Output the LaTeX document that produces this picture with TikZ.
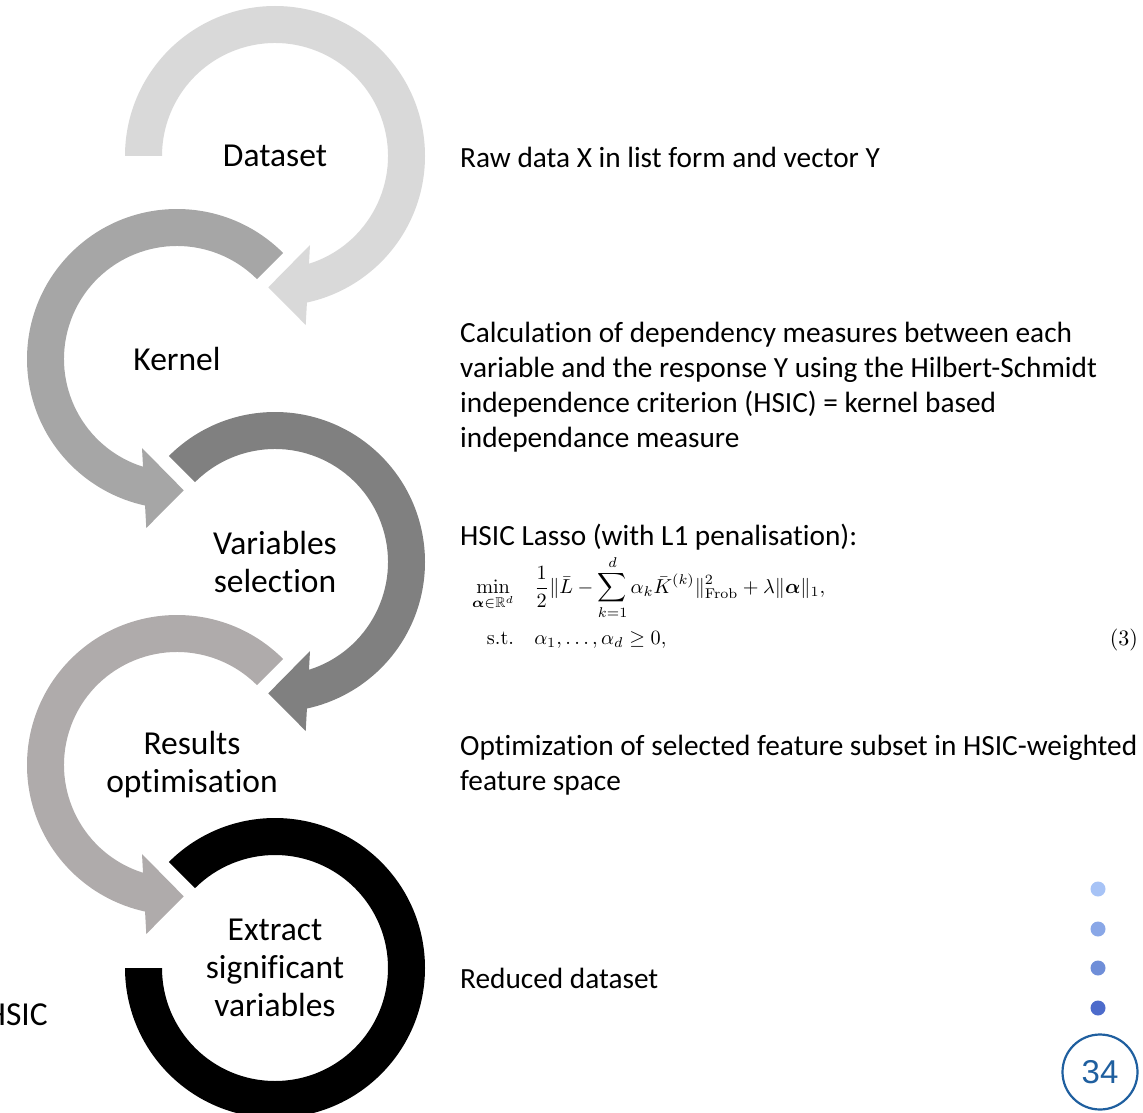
\documentclass[tikz,border=0pt]{standalone}
\usepackage{amsmath,amssymb}
\usepackage[no-math]{fontspec}
\setmainfont{Carlito}[Ligatures={NoCommon}]
\newfontfamily\numfont{Liberation Sans}
\usepackage{graphicx}

\definecolor{ringA}{HTML}{D9D9D9}
\definecolor{ringB}{HTML}{A6A6A6}
\definecolor{ringC}{HTML}{808080}
\definecolor{ringD}{HTML}{AFABAB}
\definecolor{ringE}{HTML}{000000}
\definecolor{dotA}{HTML}{A7C3F6}
\definecolor{dotB}{HTML}{89A7E7}
\definecolor{dotC}{HTML}{6F8ED8}
\definecolor{dotD}{HTML}{4D6BCB}
\definecolor{pgblue}{HTML}{1F5F9F}

% clockwise ring arrow: centre x, centre y, start angle, colour (head at the bottom)
\newcommand\ringCW[4]{%
  \fill[#4, shift={(#1,#2)}] (#3:150) arc[start angle=#3, end angle=-77.7, radius=150]
    -- (30.7,-169) -- (-6.7,-131.3) -- (35,-89) -- (-72.5:113)
    arc[start angle=-72.5, end angle=#3, radius=113] -- cycle;}
% counter-clockwise ring arrow (mirror image)
\newcommand\ringCCW[4]{%
  \fill[#4, shift={(#1,#2)}] (#3:150) arc[start angle=#3, end angle=257.7, radius=150]
    -- (-30.7,-169) -- (6.7,-131.3) -- (-35,-89) -- (252.5:113)
    arc[start angle=252.5, end angle=#3, radius=113] -- cycle;}

\begin{document}
\begin{tikzpicture}[x=1pt,y=1pt,
  steplabel/.style={font=\fontsize{33.5}{38}\selectfont, align=center, inner sep=0pt},
  desc/.style={font=\fontsize{29.3}{35}\selectfont, align=left, anchor=west, inner sep=0pt},
  navdot/.style={radius=7.5}]
\useasboundingbox (0,0) rectangle (1143,-1113);

% circular arrows
\ringCW{275}{-156}{180}{ringA}
\ringCCW{177}{-359}{45}{ringB}
\ringCW{275}{-562}{135}{ringC}
\ringCCW{177}{-765}{45}{ringD}
\fill[ringE, shift={(275,-968)}] (135:150) arc[start angle=135, end angle=-180, radius=150]
  -- (180:113) arc[start angle=-180, end angle=135, radius=113] -- cycle;

% step labels
\node[steplabel] (dataset) at (275,-156) {Dataset};
\node[steplabel] (kernel) at (177,-359) {Kernel};
\node[steplabel] (varsel) at (275,-562) {Variables\\selection};
\node[steplabel] (resopt) at (192,-765) {Results\\optimisation};
\node[steplabel] (extract) at (275,-968) {Extract\\significant\\variables};
\node[steplabel, anchor=east] (hsicleft) at (48,-1015) {HSIC};

% descriptions
\node[desc] (d1) at (460,-157) {Raw data X in list form and vector Y};
\node[desc] (d2) at (460,-387.5) {Calculation of dependency measures between each\\variable and the response Y using the Hilbert-Schmidt\\independence criterion (HSIC) = kernel based\\independance measure};
\node[desc] (d3) at (460,-537) {HSIC Lasso (with L1 penalisation):};
\node[anchor=west, inner sep=0pt] (eq) at (472,-604) {\resizebox{353pt}{!}{$\displaystyle
  \begin{aligned}
  \min_{\boldsymbol{\alpha}\in\mathbb{R}^d}&\quad\frac{1}{2}\|\bar{L}-\sum_{k=1}^{d}\alpha_k\bar{K}^{(k)}\|_{\mathrm{Frob}}^2+\lambda\|\boldsymbol{\alpha}\|_1,\\
  \mathrm{s.t.}&\quad \alpha_1,\dots,\alpha_d\geq 0,
  \end{aligned}$}};
\node[inner sep=0pt] (eqnum) at (1124,-640) {\scalebox{2.2}{$(3)$}};
\node[desc] (d4) at (460,-765) {Optimization of selected feature subset in HSIC-weighted\\feature space};
\node[desc] (d5) at (460,-978) {Reduced dataset};

% navigation dots and page number
\fill[dotA] (1098,-889) circle[navdot];
\fill[dotB] (1098,-929) circle[navdot];
\fill[dotC] (1098,-968) circle[navdot];
\fill[dotD] (1098,-1008) circle[navdot];
\node[draw=pgblue, line width=2.2pt, circle, minimum size=75pt, inner sep=0pt,
  text=pgblue, font=\numfont\fontsize{33}{36}\selectfont] (pg) at (1100,-1072) {34};
\end{tikzpicture}
\end{document}
